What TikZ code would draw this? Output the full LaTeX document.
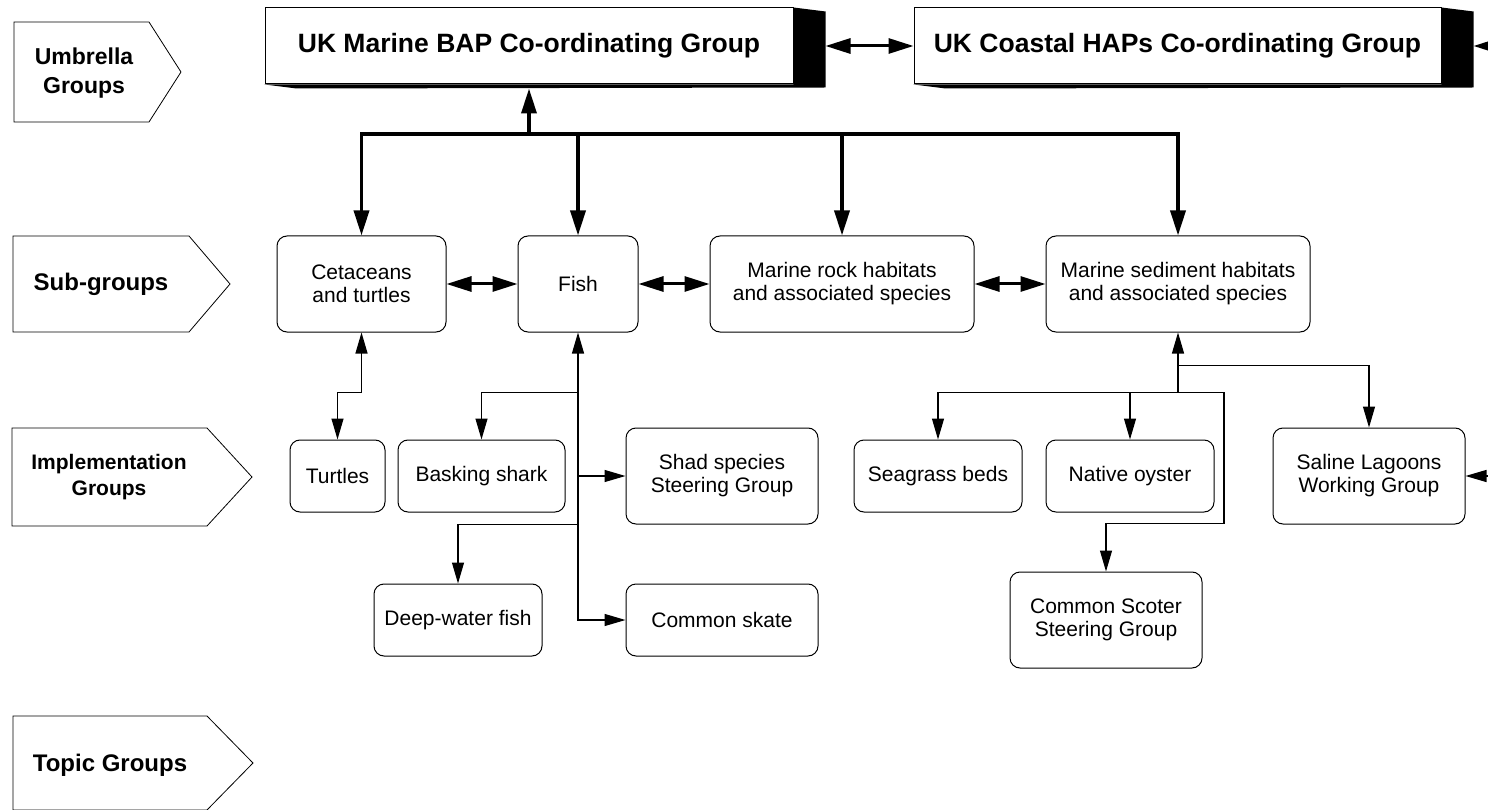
\documentclass[tikz,border=0pt]{standalone}
\usepackage{fontspec}
\setmainfont{Liberation Sans}
\usetikzlibrary{arrows.meta,positioning}

\tikzset{
  grpbox/.style={draw, line width=1pt, rounded corners=10pt, align=center, inner sep=1pt,
    font=\fontsize{21}{23}\selectfont},
  umbbox/.style={draw, fill=white, line width=1pt, inner sep=0pt,
    font=\bfseries\fontsize{26.5}{30}\selectfont},
  lvllabel/.style={align=center, font=\bfseries\fontsize{23}{29}\selectfont},
  busarrow/.style={line width=3.5pt, -{Triangle[length=25pt,width=15pt]}},
  linkarrow/.style={line width=3pt, {Triangle[length=25pt,width=15pt]}-{Triangle[length=25pt,width=15pt]}},
  subarrow/.style={line width=1.2pt, -{Triangle[length=21pt,width=12pt]}},
  subboth/.style={line width=1.2pt, {Triangle[length=21pt,width=12pt]}-{Triangle[length=21pt,width=12pt]}},
}

\begin{document}
\begin{tikzpicture}[x=1pt, y=-1pt]
\useasboundingbox (0,0) rectangle (1488,810);
\clip (0,0) rectangle (1488,810);
%\draw [help lines, step=50](0,0) grid (1488,810);

% level labels
\draw [line width=0.8pt] (14,22) -- (149,22) -- (181,72) -- (149,122) -- (14,122) -- cycle;
\draw [line width=0.8pt] (13,236) -- (189,236) -- (230,284) -- (189,332) -- (13,332) -- cycle;
\draw [line width=0.8pt] (12,428) -- (207,428) -- (252,477) -- (207,526) -- (12,526) -- cycle;
\draw [line width=0.8pt] (13,716) -- (207,716) -- (253,763) -- (207,810) -- (13,810) -- cycle;
\node [lvllabel] (lumb) at (84,73) {Umbrella\\Groups};
\node [lvllabel, font=\bfseries\fontsize{24}{29}\selectfont] (lsub) at (101,284) {Sub-groups};
\node [lvllabel, font=\bfseries\fontsize{21}{26}\selectfont] (limp) at (109,477) {Implementation\\Groups};
\node [lvllabel, font=\bfseries\fontsize{24}{29}\selectfont] (ltop) at (110,765) {Topic Groups};

% umbrella groups
\node [umbbox, minimum width=528pt, minimum height=76pt] (mbap) at (529,46) {UK Marine BAP Co-ordinating Group};
\node [umbbox, minimum width=527pt, minimum height=76pt] (coastal) at (1177.5,46) {UK Coastal HAPs Co-ordinating Group};
\fill (mbap.north east) -- ++(32,4) -- ++(0,76) -- ([shift={(32,4)}]mbap.south west) -- (mbap.south west) -- (mbap.south east) -- cycle;
\fill (coastal.north east) -- ++(32,4) -- ++(0,76) -- ([shift={(32,4)}]coastal.south west) -- (coastal.south west) -- (coastal.south east) -- cycle;

% sub-groups
\node [grpbox, minimum width=169pt, minimum height=96pt] (cet) at (361.5,284) {Cetaceans\\and turtles};
\node [grpbox, minimum width=120pt, minimum height=96pt] (fish) at (578,284) {Fish};
\node [grpbox, minimum width=264pt, minimum height=96pt] (rock) at (842,284) {Marine rock habitats\\and associated species};
\node [grpbox, minimum width=264pt, minimum height=96pt] (sed) at (1178,284) {Marine sediment habitats\\and associated species};

% implementation groups
\node [grpbox, minimum width=95pt, minimum height=72pt] (turtles) at (337.5,476) {Turtles};
\node [grpbox, minimum width=167pt, minimum height=72pt] (bask) at (481.5,476) {Basking shark};
\node [grpbox, minimum width=192pt, minimum height=96pt] (shad) at (722,476) {Shad species\\Steering Group};
\node [grpbox, minimum width=168pt, minimum height=72pt] (deep) at (458,620) {Deep-water fish};
\node [grpbox, minimum width=192pt, minimum height=72pt] (skate) at (722,620) {Common skate};
\node [grpbox, minimum width=168pt, minimum height=72pt] (seagrass) at (938,476) {Seagrass beds};
\node [grpbox, minimum width=168pt, minimum height=72pt] (oyster) at (1130,476) {Native oyster};
\node [grpbox, minimum width=192pt, minimum height=96pt] (scoter) at (1106,620) {Common Scoter\\Steering Group};
\node [grpbox, minimum width=192pt, minimum height=96pt] (saline) at (1369,476) {Saline Lagoons\\Working Group};

% umbrella links
\coordinate (hub) at (529,134);
\draw [busarrow] (hub) -- ([yshift=-4pt]mbap.south);
\foreach \g in {cet,fish,rock,sed}
  \draw [busarrow] (hub) -| (\g.north);
\draw [linkarrow] ([xshift=32pt]mbap.east) -- (coastal.west);
\coordinate (offcst) at (1530,46);
\draw [line width=3pt, -{Triangle[length=25pt,width=15pt]}] (offcst) -- ([xshift=32pt]coastal.east);

% sub-group links
\draw [linkarrow] (cet) -- (fish);
\draw [linkarrow] (fish) -- (rock);
\draw [linkarrow] (rock) -- (sed);

% implementation links
\draw [subboth] (cet.south) -- ++(0,60) -| (turtles.north);

\coordinate (fj) at ([yshift=-60pt]fish.south);
\draw [subboth] (fish.south) -- (fish.south |- skate.west) -- (skate.west);
\draw [subarrow] (fj) -| (bask.north);
\draw [subarrow] (fish.south |- shad.west) -- (shad.west);
\draw [subarrow] (fish.south |- shad.south) -| (deep.north);

\coordinate (sj) at ([yshift=-60pt]sed.south);
\coordinate (sk) at ([yshift=-33pt]sed.south);
\draw [subarrow] (sj) -- (sed.south);
\draw [subarrow] (sk) -| (saline.north);
\draw [subarrow] (sj) -| (seagrass.north);
\draw [subarrow] (sj) -| (oyster.north);
\draw [subarrow] (sj) -- ++(46,0) -- ++(0,131) -| (scoter.north);
\coordinate (offsal) at (1520,476);
\draw [subarrow] (offsal) -- (saline.east);
\end{tikzpicture}
\end{document}
